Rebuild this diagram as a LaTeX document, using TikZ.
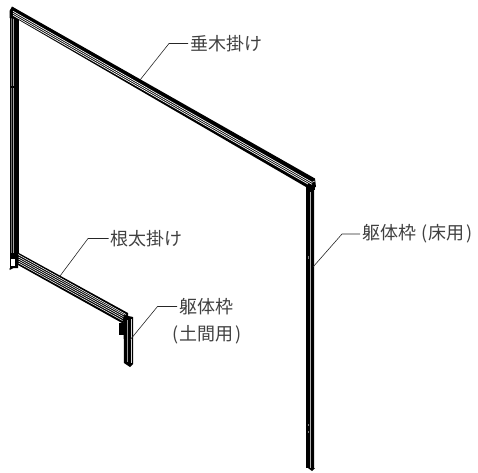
\documentclass[tikz,border=0pt]{standalone}
\usepackage{fontspec}
\setmainfont{Noto Sans CJK JP}
\tikzset{
  stripe/.style={draw=white, line width=0.7pt},
  greystripe/.style={draw=black!35, line width=1pt},
  leader/.style={draw=black!85, line width=0.6pt},
  partlabel/.style={inner sep=0pt, inner xsep=2pt, anchor=west, font=\fontsize{18}{18}\selectfont, text=black!75}
}
\begin{document}
\begin{tikzpicture}[x=1pt, y=-1pt]
\useasboundingbox (0,0) rectangle (478,472);

% Left post
\fill (9.5,13) rectangle (19,256);
\draw[greystripe, draw=black!55, line width=0.8pt] (11.5,18) -- (11.5,256);
\draw[greystripe, draw=black!35, line width=1.3pt] (13.5,18) -- (13.5,256);
\fill (10,86) rectangle (19,88);

% Right post
\fill (305.5,186) rectangle (315,468);
\fill (308,468) -- (312,471) -- (315,468) -- cycle;
\fill[black!12] (313.5,190) rectangle (315,468);
\fill[black!30] (309.5,192) rectangle (310.7,468);
\fill[black!50] (307.5,256) rectangle (309,259);
\fill[black!50] (307.5,424) rectangle (309,426);
\fill[black!50] (307.5,431) rectangle (309,433);

% Top rail
\fill (12,6.5) -- (315,178.5) -- (316,187) -- (306,187) -- (18,19.5) -- (9.5,18) -- (9.5,11) -- cycle;
\draw[stripe] (13,11.3) -- (312,182.3);
\draw[stripe] (13,13.3) -- (312,184.3);
\draw[stripe] (13,15.3) -- (308,184);
\draw[stripe, line width=0.5pt] (312,182.3) -- (315,181);

% Bottom rail
\fill (17,252) -- (128,313) -- (128,322) -- (122,323) -- (18,265) -- cycle;
\draw[stripe, line width=0.55pt] (18,254.5) -- (126,314.5);
\draw[stripe, line width=0.55pt] (18.5,257) -- (125,315.5);
\draw[stripe, line width=0.55pt] (18.5,259) -- (124,317);
\draw[stripe, line width=0.55pt] (18.5,261) -- (123,318.5);
\draw[stripe, line width=0.55pt] (18.5,263) -- (122.5,320.5);

% Left foot
\fill (9.5,253) rectangle (18,268);
\fill (9.5,268) -- (18,268) -- (18,266) -- (9.5,270) -- cycle;
\fill[white] (11,259) rectangle (15,266);

% Short post
\fill (119,323) rectangle (125,335);
\fill (123.5,315) -- (133,317) -- (133,364) -- (130,367) -- (124,363) -- cycle;
\fill[black!15] (130.7,319) rectangle (132.3,363);
\draw[stripe, draw=black!40] (127,320) -- (127,362);

% Labels
\node[partlabel] (taruki) at (188,43.5) {垂木掛け};
\node[partlabel] (neda) at (108.5,238.5) {根太掛け};
\node[partlabel] (kutai) at (360,234) {躯体枠\hspace{5pt}(\hspace{1.5pt}床用\hspace{1.5pt})};
\node[partlabel] (doma) at (177,306.5) {躯体枠};
\node[partlabel, anchor=center] (doma2) at (207,335) {(\hspace{1pt}土間用\hspace{1pt})};

% Leaders
\coordinate (tarukiend) at (140,80);
\coordinate (tarukibend) at (169,43.5);
\coordinate (nedaend) at (60,276);
\coordinate (nedabend) at (88,238.5);
\coordinate (kutaiend) at (313,267);
\coordinate (kutaibend) at (342,234);
\coordinate (domaend) at (130,340);
\coordinate (domabend) at (157.5,306.5);
\draw[leader] (tarukiend) -- (tarukibend) -- (taruki.west);
\draw[leader] (nedaend) -- (nedabend) -- (neda.west);
\draw[leader] (kutaiend) -- (kutaibend) -- (kutai.west);
\draw[leader] (domaend) -- (domabend) -- (doma.west);
\end{tikzpicture}
\end{document}
